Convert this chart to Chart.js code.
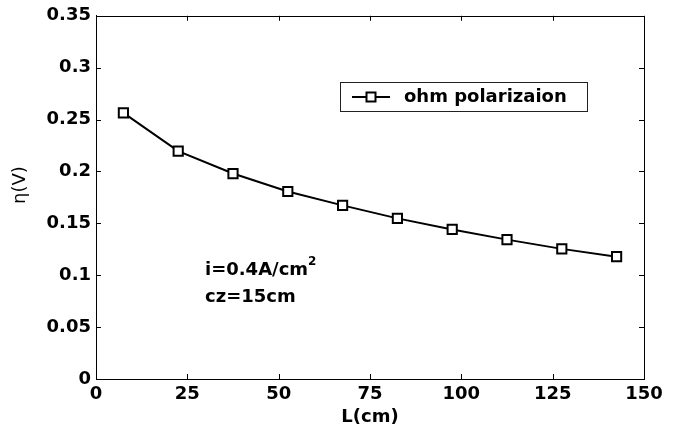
<!DOCTYPE html>
<html>
<head>
<meta charset="utf-8">
<script src="https://cdn.jsdelivr.net/npm/chart.js@4.4.1/dist/chart.umd.min.js"></script>
<style>
  html, body { margin: 0; padding: 0; background: #fff; }
  #wrap { width: 679px; height: 437px; position: relative; }
</style>
</head>
<body>
<div id="wrap"><canvas id="pol"></canvas></div>
<script>
// channel length (cm) and ohmic overpotential (V)
var lengths = [7.5, 22.5, 37.5, 52.5, 67.5, 82.5, 97.5, 112.5, 127.5, 142.5];
var eta = [0.2565, 0.2196, 0.198, 0.1807, 0.1673, 0.1548, 0.1441, 0.1343, 0.1254, 0.1179];
var xTicks = [0, 25, 50, 75, 100, 125, 150];
var yTicks = [0, 0.05, 0.1, 0.15, 0.2, 0.25, 0.3, 0.35];

var seriesName = 'ohm polarizaion';
var noteLines = ['i=0.4A/cm', 'cz=15cm'];

var FONT = '"DejaVu Sans", sans-serif';

var points = [];
for (var i = 0; i < lengths.length; i++) {
    points.push({x: lengths[i], y: eta[i]});
}

// box, inward ticks, legend, note and y title
var decor = {
    id: 'decor',
    afterDraw: function (chart) {
        var ctx = chart.ctx;
        var a = chart.chartArea;
        var xs = chart.scales.x, ys = chart.scales.y;
        ctx.save();
        ctx.strokeStyle = '#000';
        ctx.lineWidth = 1;
        ctx.strokeRect(Math.round(a.left) + 0.5, Math.round(a.top) + 0.5,
            Math.round(a.right - a.left), Math.round(a.bottom - a.top));

        ctx.beginPath();
        xTicks.forEach(function (v) {
            var px = Math.round(xs.getPixelForValue(v)) + 0.5;
            ctx.moveTo(px, a.bottom); ctx.lineTo(px, a.bottom - 5);
            ctx.moveTo(px, a.top); ctx.lineTo(px, a.top + 5);
        });
        yTicks.forEach(function (v) {
            var py = Math.round(ys.getPixelForValue(v)) + 0.5;
            ctx.moveTo(a.left, py); ctx.lineTo(a.left + 5, py);
            ctx.moveTo(a.right, py); ctx.lineTo(a.right - 5, py);
        });
        ctx.stroke();

        // legend
        ctx.fillStyle = '#fff';
        ctx.fillRect(340, 82, 248, 30);
        ctx.strokeStyle = '#222';
        ctx.strokeRect(340.5, 82.5, 247, 29);
        ctx.strokeStyle = '#000';
        ctx.lineWidth = 2;
        ctx.beginPath();
        ctx.moveTo(352, 97); ctx.lineTo(390, 97);
        ctx.stroke();
        ctx.fillRect(366.5, 92.5, 9, 9);
        ctx.strokeRect(366.5, 92.5, 9, 9);
        ctx.fillStyle = '#000';
        ctx.font = 'bold 18px ' + FONT;
        ctx.textBaseline = 'middle';
        ctx.textAlign = 'left';
        ctx.fillText(seriesName, 404, 97);

        // operating conditions
        ctx.textBaseline = 'alphabetic';
        ctx.fillText(noteLines[0], 205, 275);
        var w = ctx.measureText(noteLines[0]).width;
        ctx.font = 'bold 12px ' + FONT;
        ctx.fillText('2', 205 + w, 265);
        ctx.font = 'bold 18px ' + FONT;
        ctx.fillText(noteLines[1], 205, 302);

        // y axis title
        ctx.font = '18px ' + FONT;
        ctx.translate(20, 185);
        ctx.rotate(-Math.PI / 2);
        ctx.textAlign = 'center';
        ctx.textBaseline = 'middle';
        ctx.fillText('\u03b7(V)', 0, 0);
        ctx.restore();
    }
};

var ctx = document.getElementById('pol').getContext('2d');
new Chart(ctx, {
    type: 'line',
    data: {
        datasets: [{
            label: seriesName,
            data: points,
            borderColor: '#000',
            borderWidth: 2,
            tension: 0,
            pointStyle: 'rect',
            pointRadius: 6.5,
            pointBorderWidth: 2,
            pointBackgroundColor: '#fff',
            pointBorderColor: '#000'
        }]
    },
    options: {
        responsive: true,
        maintainAspectRatio: false,
        animation: false,
        layout: {padding: {top: 13, right: 35, left: 0, bottom: 0}},
        plugins: {legend: {display: false}, tooltip: {enabled: false}},
        scales: {
            x: {
                type: 'linear',
                min: 0, max: 150,
                afterBuildTicks: function (s) { s.ticks = xTicks.map(function (v) { return {value: v}; }); },
                afterFit: function (s) { s.height = 58; },
                grid: {display: false, drawTicks: false},
                border: {display: true, color: '#000', width: 1},
                ticks: {color: '#000', padding: 5, font: {family: FONT, size: 18, weight: 'bold'}, maxRotation: 0},
                title: {display: true, text: 'L(cm)', color: '#000', padding: {top: 0, bottom: 9},
                    font: {family: FONT, size: 18, weight: 'bold'}}
            },
            y: {
                min: 0, max: 0.35,
                afterBuildTicks: function (s) { s.ticks = yTicks.map(function (v) { return {value: v}; }); },
                afterFit: function (s) { s.width = 96; },
                grid: {display: false, drawTicks: false},
                border: {display: true, color: '#000', width: 1},
                ticks: {
                    color: '#000', padding: 5,
                    font: {family: FONT, size: 18, weight: 'bold'},
                    callback: function (v) { return String(+v.toFixed(2)); }
                }
            }
        }
    },
    plugins: [decor]
});
</script>
</body>
</html>
